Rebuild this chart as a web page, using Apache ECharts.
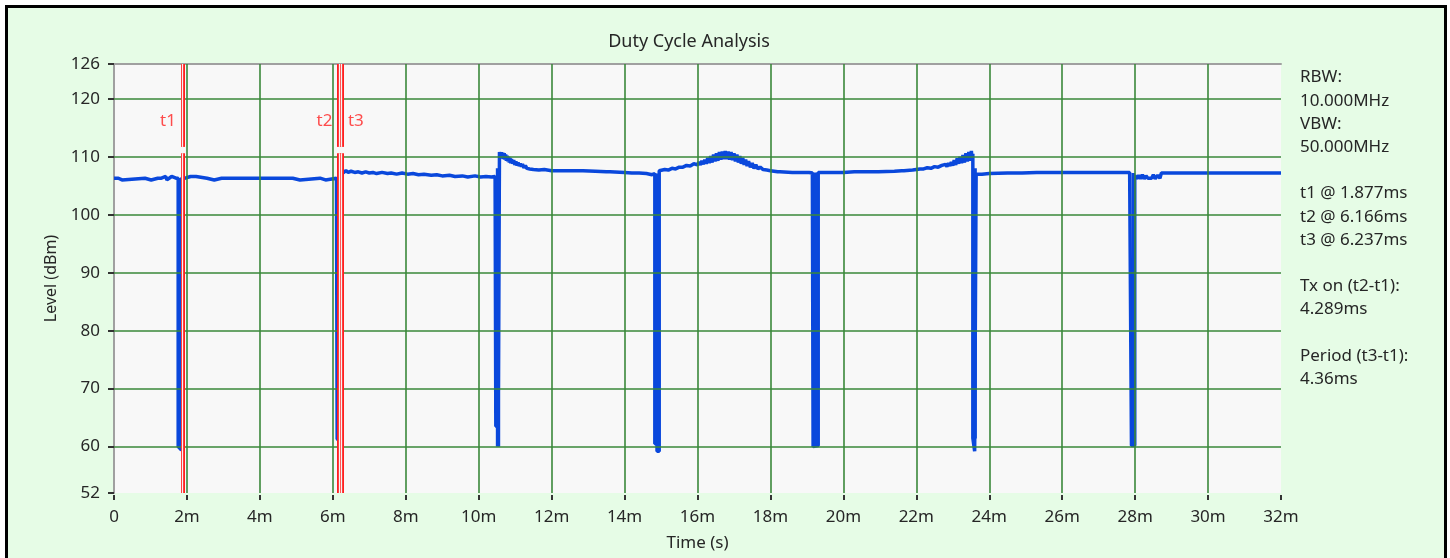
<!DOCTYPE html>
<html>
<head>
<meta charset="utf-8">
<script src="https://cdn.jsdelivr.net/npm/echarts@6/dist/echarts.min.js"></script>
<style>
  html, body { margin: 0; padding: 0; background: #ffffff; }
  #panel { position: absolute; left: 5px; top: 5px; width: 1436px; height: 570px; border: 3px solid #000; background: #E6FCE6; }
  #chart { position: absolute; left: 0; top: 0; width: 1450px; height: 558px; }
</style>
</head>
<body>
<div id="panel"></div>
<div id="chart"></div>
<script>
// ---------------- data (time in ms, level in dBm) ----------------
const seg1 = [[0,106.3],[0.12,106.3],[0.15,106.0],[0.22,106.0],[0.25,106.3],[0.85,106.3],[0.88,106.0],[1.02,106.0],[1.05,106.3],[1.2,106.3],[1.22,106.6],[1.25,106.0],[1.3,106.3],[1.42,106.6],[1.45,106.0],[1.5,106.3],[1.58,106.6],[1.62,106.3],[1.7,106.3],[1.72,106.6],[1.74,106.3],
  [1.76,106.3],[1.76,60.0],[1.85,59.4],[1.85,106.3]];
const seg2 = [[1.9,106.6],[1.95,106.3],[2.1,106.6],[2.15,106.3],[2.25,106.6],[2.3,106.3],[2.55,106.3],[2.58,106.0],[2.75,106.0],[2.78,106.3],[2.95,106.3],[2.98,106.0],[3.05,106.3],[3.6,106.3],[3.63,106.0],[3.7,106.3],[4.35,106.3],[4.38,106.0],[4.45,106.3],[4.9,106.3],[4.93,106.0],[5.1,106.0],[5.13,106.3],[5.65,106.3],[5.68,106.0],[5.8,106.0],[5.83,106.3],[6.1,106.3],
  [6.12,106.3],[6.12,61.3],[6.2,61.0],[6.2,107.2]];
const seg3 = [[6.24,107.5],[6.3,107.3],[6.36,107.6],[6.42,107.3],[6.5,107.5],[6.6,107.3],[6.7,107.4],[6.8,107.2],[6.9,107.4],[7.0,107.2],[7.1,107.3],[7.2,107.1],[7.35,107.3],[7.5,107.1],[7.6,107.2],[7.75,107.0],[7.9,107.2],[8.05,107.0],[8.2,107.1],[8.35,106.9],[8.5,107.0],[8.7,106.8],[8.85,106.9],[9.0,106.7],[9.2,106.8],[9.35,106.6],[9.55,106.7],[9.7,106.5],[9.9,106.7],[10.05,106.5],[10.2,106.6],[10.35,106.5],[10.45,106.6],
  [10.47,106.6],[10.47,63.5],[10.53,63.5],[10.53,60.0],[10.57,60.0],[10.57,110.8]];
const seg4 = [[10.58,110.9],[10.6,109.8],[10.62,110.8],[10.64,109.7],[10.66,110.7],[10.68,109.6],[10.7,110.6],[10.72,109.5],[10.74,110.4],[10.76,109.3],[10.78,110.2],[10.8,109.2],[10.82,110.0],[10.84,109.0],[10.86,109.8],[10.88,108.9],[10.9,109.6],[10.93,108.8],[10.96,109.4],[10.99,108.6],[11.02,109.2],[11.05,108.5],[11.08,109.0],[11.11,108.4],[11.14,108.8],[11.17,108.3],[11.2,108.7],[11.24,108.1],[11.28,108.5],[11.32,108.0],[11.36,108.3],[11.4,107.9],[11.45,108.2],[11.5,107.8],[11.55,108.0],[11.65,107.7],[11.8,107.8],[12.0,107.6],[12.3,107.6],[12.33,107.9],[12.36,107.6],[12.8,107.6],[12.83,107.9],[12.86,107.6],[13.2,107.5],[13.5,107.4],[13.53,107.1],[13.6,107.4],[14.0,107.3],[14.2,107.2],[14.25,107.0],[14.4,107.2],[14.6,107.1],[14.75,106.9],[14.8,107.1],
  [14.83,107.1],[14.83,60.5],[14.89,60.5],[14.89,59.2],[14.95,59.2],[14.95,107.6]];
const seg5 = [[15.0,107.7],[15.1,107.8],[15.2,107.7],[15.3,108.0],[15.4,107.9],[15.5,108.2],[15.6,108.2],[15.7,108.5],[15.8,108.4],[15.9,108.8],[16.0,108.6],[16.04,109.1],[16.08,108.6],[16.12,109.3],[16.16,108.7],[16.2,109.5],[16.24,108.8],[16.28,109.8],[16.32,108.9],[16.36,110.1],[16.4,109.0],[16.44,110.4],[16.48,109.2],[16.52,110.6],[16.56,109.3],[16.6,110.8],[16.64,109.5],[16.68,110.9],[16.72,109.6],[16.76,111.0],[16.8,109.6],[16.84,110.9],[16.88,109.5],[16.92,110.8],[16.96,109.4],[17.0,110.6],[17.04,109.2],[17.08,110.4],[17.12,109.0],[17.16,110.1],[17.2,108.8],[17.24,109.8],[17.28,108.6],[17.32,109.5],[17.36,108.4],[17.4,109.2],[17.45,108.2],[17.5,108.9],[17.55,108.0],[17.6,108.6],[17.66,107.9],[17.72,108.2],[17.8,107.8],[17.9,107.7],[18.0,107.6],[18.2,107.4],[18.23,107.7],[18.26,107.4],[18.6,107.3],[18.63,107.6],[18.66,107.3],[19.0,107.3],[19.03,107.6],[19.06,107.3],[19.15,107.2],
  [19.17,107.3],[19.17,60.0],[19.31,60.2],[19.31,107.3]];
const seg6 = [[19.5,107.3],[20.0,107.3],[20.3,107.4],[20.33,107.7],[20.36,107.4],[20.9,107.4],[20.93,107.7],[20.96,107.4],[21.4,107.5],[21.6,107.6],[21.63,107.9],[21.66,107.6],[21.9,107.7],[22.0,107.8],[22.1,107.9],[22.2,107.9],[22.3,108.1],[22.4,108.0],[22.5,108.3],[22.6,108.2],[22.7,108.5],[22.75,108.2],[22.8,108.7],[22.84,108.3],[22.88,108.9],[22.92,108.4],[22.96,109.1],[23.0,108.5],[23.04,109.4],[23.08,108.6],[23.12,109.7],[23.16,108.8],[23.2,110.0],[23.24,108.9],[23.28,110.3],[23.32,109.0],[23.36,110.6],[23.4,109.2],[23.44,110.8],[23.48,109.3],[23.51,111.0],[23.53,109.5],
  [23.55,110.5],[23.55,61.5],[23.6,61.5],[23.6,59.2],[23.64,59.2],[23.64,107.0]];
const seg7 = [[23.8,107.0],[24.0,107.1],[24.5,107.2],[24.55,107.5],[24.6,107.2],[24.8,107.2],[24.85,107.5],[24.9,107.2],[25.3,107.3],[25.8,107.3],[26.0,107.3],[26.05,107.6],[26.1,107.3],[26.6,107.3],[27.0,107.3],[27.05,107.6],[27.1,107.3],[27.4,107.3],[27.45,107.6],[27.5,107.3],[27.85,107.3],
  [27.9,107.3],[27.9,60.2],[27.99,60.2],[27.99,106.8]];
const seg8 = [[28.05,106.2],[28.1,106.8],[28.15,106.2],[28.2,106.9],[28.25,106.2],[28.3,106.7],[28.35,106.3],[28.45,106.3],[28.5,106.9],[28.55,106.2],[28.62,106.8],[28.68,106.3],[28.72,107.2],[29.0,107.2],[29.5,107.2],[30.0,107.2],[30.5,107.2],[30.55,107.5],[30.6,107.2],[31.0,107.2],[31.05,107.5],[31.1,107.2],[31.4,107.2],[31.45,107.5],[31.5,107.2],[31.7,107.2],[31.75,107.5],[31.8,107.2],[32,107.2]];

// off-time dips: [start ms, end ms, bottom dBm, top dBm]
const dropBars = [
  [1.76, 1.86, 59.6, 106.3],
  [6.12, 6.21, 61.2, 106.5],
  [10.47, 10.59, 60.0, 108.0],
  [14.83, 14.96, 60.4, 107.1],
  [19.17, 19.33, 60.1, 107.3],
  [23.55, 23.66, 61.4, 108.0],
  [27.9, 28.0, 60.2, 107.2]
];

const markerNames = ['t1', 't2', 't3'];
const markerTimes = [1.877, 6.166, 6.237];   // ms
const rbwText = '10.000MHz';
const vbwText = '50.000MHz';

const yTicks = [52,60,70,80,90,100,110,120,126];
const gridX = [2,4,6,8,10,12,14,16,18,20,22,24,26,28,30];
const gridY = [60,70,80,90,100,110,120];

// ---------------- chart ----------------
const trace = [].concat(seg1, seg2, seg3, seg4, seg5, seg6, seg7, seg8);
const FONT = '"Noto Sans", "Open Sans", sans-serif';
const TXT = '#262626';
const BLUE = '#0A48DC';
const labelSide = { t1: 'left', t2: 'left', t3: 'right' };
const markerLabelLevel = 116.2;

const txOn = (markerTimes[1] - markerTimes[0]).toFixed(3);
const period = +(markerTimes[2] - markerTimes[0]).toFixed(3);
const infoLines = [
  'RBW:', rbwText, 'VBW:', vbwText, '',
  markerNames.map((n, i) => n + ' @ ' + markerTimes[i].toFixed(3) + 'ms').join('\n'),
  '',
  'Tx on (t2-t1):', txOn + 'ms', '',
  'Period (t3-t1):', period + 'ms'
];

function markerSegs() {
  const out = [];
  markerTimes.forEach(t => {
    out.push([{ coord: [t, 52] }, { coord: [t, 110.6] }]);
    out.push([{ coord: [t, 111.7] }, { coord: [t, 126] }]);
  });
  return out;
}

const chart = echarts.init(document.getElementById('chart'), null, { renderer: 'canvas' });
chart.setOption({
  backgroundColor: 'transparent',
  animation: false,
  textStyle: { fontFamily: FONT },
  grid: { left: 114, right: 169, top: 64, bottom: 65, show: true, backgroundColor: '#F8F8F8', borderWidth: 0 },
  graphic: [
    { type: 'text', x: 689, y: 33, style: { text: 'Duty Cycle Analysis', fontSize: 18, fontFamily: FONT, fill: TXT, textAlign: 'center' } },
    { type: 'text', x: 1300, y: 66, style: { text: infoLines.join('\n'), fontSize: 17, lineHeight: 23.2, fontFamily: FONT, fill: TXT } }
  ],
  xAxis: [
    {
      type: 'value', min: 0, max: 32, interval: 2, position: 'bottom', offset: 2,
      axisLine: { show: false },
      axisTick: { show: true, length: 5, lineStyle: { color: '#333', width: 2 } },
      axisLabel: { margin: 14, fontSize: 17, color: TXT, fontFamily: FONT,
        formatter: v => (v === 0 ? '0' : v + 'm') },
      splitLine: { show: false },
      name: 'Time (s)', nameLocation: 'middle', nameGap: 40,
      nameTextStyle: { fontSize: 17, color: TXT, fontFamily: FONT }
    },
    {
      type: 'value', min: 0, max: 32, position: 'top',
      axisLine: { show: true, lineStyle: { color: '#A0A0A0', width: 2 } },
      axisTick: { show: false }, axisLabel: { show: false }, splitLine: { show: false }
    }
  ],
  yAxis: [
    {
      type: 'value', min: 52, max: 126, position: 'left', offset: 4,
      axisLine: { show: false },
      axisTick: { show: true, length: 6, customValues: yTicks, lineStyle: { color: '#333', width: 2 } },
      axisLabel: { customValues: yTicks, margin: 10, fontSize: 17, color: TXT, fontFamily: FONT },
      splitLine: { show: false },
      name: 'Level (dBm)', nameLocation: 'middle', nameGap: 50,
      nameTextStyle: { fontSize: 16, color: TXT, fontFamily: FONT }
    },
    {
      type: 'value', min: 52, max: 126, position: 'left', offset: 0,
      axisLine: { show: true, lineStyle: { color: '#A0A0A0', width: 2 } },
      axisTick: { show: false }, axisLabel: { show: false }, splitLine: { show: false }
    }
  ],
  series: [
    {
      name: 'grid', type: 'line', data: [], z: 1, silent: true,
      markLine: {
        silent: true, symbol: 'none', label: { show: false }, animation: false,
        lineStyle: { color: '#3A883A', width: 1.6, type: 'solid' },
        data: gridX.map(v => ({ xAxis: v })).concat(gridY.map(v => ({ yAxis: v })))
      }
    },
    {
      name: 'Level', type: 'line', data: trace, z: 3, showSymbol: false, symbol: 'none',
      lineStyle: { color: BLUE, width: 3.5 }, clip: true
    },
    {
      name: 'drops', type: 'custom', z: 4, silent: true, clip: true,
      encode: { x: [0, 1], y: [2, 3] },
      data: dropBars,
      renderItem: (params, api) => {
        const a = api.coord([api.value(0), api.value(3)]);
        const b = api.coord([api.value(1), api.value(2)]);
        return { type: 'rect', shape: { x: a[0], y: a[1], width: b[0] - a[0], height: b[1] - a[1] },
          style: { fill: BLUE } };
      }
    },
    {
      name: 'markersRed', type: 'line', data: [], z: 5,
      markLine: {
        silent: true, symbol: 'none', label: { show: false }, animation: false,
        lineStyle: { color: '#FF2020', width: 4, type: 'solid' },
        data: markerSegs()
      }
    },
    {
      name: 'markersInner', type: 'line', data: [], z: 6,
      markLine: {
        silent: true, symbol: 'none', label: { show: false }, animation: false,
        lineStyle: { color: '#F4F4F4', width: 1.3, type: 'solid' },
        data: markerSegs()
      }
    },
    {
      name: 'markerLabels', type: 'scatter', z: 7, symbolSize: 1,
      itemStyle: { color: 'rgba(0,0,0,0)' },
      data: markerNames.map((n, i) => ({
        name: n, value: [markerTimes[i], markerLabelLevel],
        label: { show: true, position: labelSide[n], distance: 6, formatter: n,
          color: '#FF2020', fontSize: 17, fontFamily: FONT }
      }))
    }
  ]
});
</script>
</body>
</html>
